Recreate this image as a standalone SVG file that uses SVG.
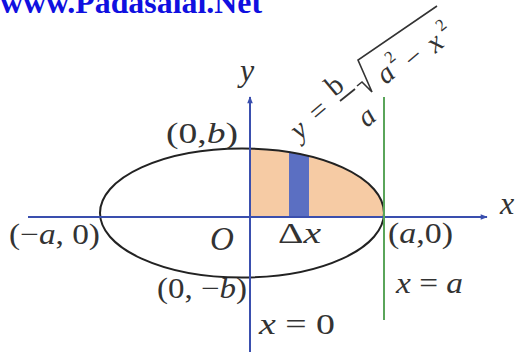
<svg xmlns="http://www.w3.org/2000/svg" width="518" height="356" viewBox="0 0 518 356">
<style>
.t{font-family:"Liberation Serif","Times New Roman",serif;font-size:29px;fill:#333}
.i{font-style:italic}
.eq{font-family:"Liberation Serif","Times New Roman",serif;font-size:29px;fill:#333;text-anchor:middle;dominant-baseline:central}
.sup{font-size:17px}
.ax{stroke:#3a4fae;stroke-width:2;fill:none}
</style>
<defs>
<clipPath id="ell"><ellipse cx="242" cy="213" rx="142" ry="64.5"/></clipPath>
<marker id="arr" viewBox="0 0 10 10" refX="9" refY="5" markerWidth="9" markerHeight="7" orient="auto" markerUnits="userSpaceOnUse"><path d="M0,1 L10,5 L0,9 Z" fill="#3a4fae"/></marker>
</defs>
<rect width="518" height="356" fill="#fff"/>
<text x="0" y="13" style="font-family:'Liberation Serif',serif;font-weight:bold;font-size:31px;fill:#1010e0" textLength="262" lengthAdjust="spacingAndGlyphs">www.Padasalai.Net</text>
<g id="shading" clip-path="url(#ell)">
<rect x="250" y="140" width="135" height="77" fill="#f6cba4"/>
<rect x="289" y="140" width="20" height="77" fill="#5b6fc2"/>
</g>
<g id="ellipse"><ellipse cx="242" cy="213" rx="142" ry="64.5" fill="none" stroke="#222" stroke-width="2"/></g>
<g id="connectors">
<line class="ax" x1="28" y1="217" x2="487" y2="217" marker-end="url(#arr)"/>
<line class="ax" x1="250" y1="352" x2="250" y2="97" marker-end="url(#arr)"/>
<line x1="384" y1="97" x2="384" y2="320" stroke="#5aa55a" stroke-width="2"/>
</g>
<g id="labels">
<text class="t i" x="240" y="81" style="font-size:32px">y</text>
<text class="t i" x="500" y="214" style="font-size:32px">x</text>
<text class="t" x="166" y="143" textLength="72" lengthAdjust="spacingAndGlyphs">(0,<tspan class="i">b</tspan>)</text>
<text class="t" x="9" y="244" textLength="91" lengthAdjust="spacingAndGlyphs">(−<tspan class="i">a</tspan>, 0)</text>
<text class="t i" x="210" y="250" style="font-size:33px">O</text>
<text class="t" x="278" y="243" textLength="43" lengthAdjust="spacingAndGlyphs">Δ<tspan class="i">x</tspan></text>
<text class="t" x="388" y="243" textLength="65" lengthAdjust="spacingAndGlyphs">(<tspan class="i">a</tspan>,0)</text>
<text class="t" x="157" y="298" textLength="90" lengthAdjust="spacingAndGlyphs">(0, −<tspan class="i">b</tspan>)</text>
<text class="t" x="259" y="334" textLength="76" lengthAdjust="spacingAndGlyphs"><tspan class="i">x</tspan> = 0</text>
<text class="t" x="396" y="293" textLength="67" lengthAdjust="spacingAndGlyphs"><tspan class="i">x</tspan> = <tspan class="i">a</tspan></text>
</g>
<g id="equation">
<text class="eq i" x="298" y="129" transform="rotate(-40 298 129)">y</text>
<text class="eq" x="318" y="110" transform="rotate(-40 318 110)">=</text>
<text class="eq" x="334" y="85" transform="rotate(-40 334 85)">b</text>
<line x1="340" y1="101" x2="355" y2="89" stroke="#333" stroke-width="1.8"/>
<text class="eq i" x="366" y="116" transform="rotate(-40 366 116)">a</text>
<polyline points="357,86 362,82 372,92 358,60 437,6" fill="none" stroke="#333" stroke-width="1.6"/>
<text class="eq i" x="385" y="73" transform="rotate(-40 385 73)">a</text>
<text class="eq sup" x="390" y="57" transform="rotate(-40 390 57)">2</text>
<text class="eq" x="413" y="57" transform="rotate(-40 413 57)">−</text>
<text class="eq i" x="434" y="42" transform="rotate(-40 434 42)">x</text>
<text class="eq sup" x="441" y="25" transform="rotate(-40 441 25)">2</text>
</g>
</svg>
